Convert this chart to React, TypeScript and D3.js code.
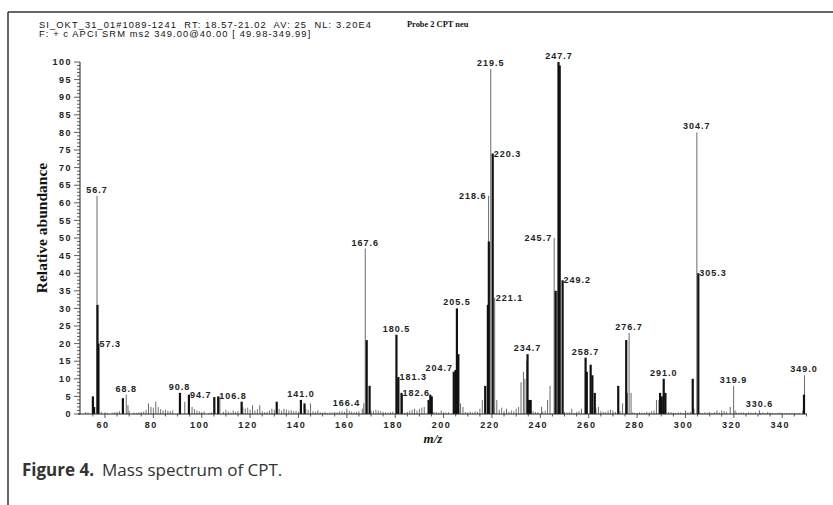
import React from "react";
import * as d3 from "d3";

// ---- data ----
const headerLine1 = "SI_OKT_31_01#1089-1241  RT: 18.57-21.02  AV: 25  NL: 3.20E4";
const headerLine2 = "F: + c APCI SRM ms2 349.00@40.00 [ 49.98-349.99]";
const sampleName = "Probe 2 CPT neu";
const yTicks = [0, 5, 10, 15, 20, 25, 30, 35, 40, 45, 50, 55, 60, 65, 70, 75, 80, 85, 90, 95, 100];
const xTicks = [60, 80, 100, 120, 140, 160, 180, 200, 220, 240, 260, 280, 300, 320, 340];

// thick dark sticks (profile)
const darkMz = [55.0, 55.5, 56.9, 57.3, 67.4, 91.0, 94.7, 105.2, 106.8, 116.5, 131.0, 141.0, 142.5, 168.2, 169.4, 180.5, 181.3, 182.6, 193.8, 194.5, 195.1, 204.2, 204.9, 205.5, 206.1, 217.2, 218.3, 218.7, 220.3, 234.7, 235.3, 236.0, 246.3, 247.5, 248.0, 249.2, 258.7, 259.2, 260.8, 261.5, 262.5, 272.2, 275.5, 289.5, 290.2, 291.0, 291.7, 303.0, 305.3, 349.0];
const darkInt = [5, 2, 31, 20, 4.5, 6, 5.5, 4.8, 5, 3.5, 3.5, 4, 3, 21, 8, 22.5, 10.5, 6, 4, 5.5, 5, 12, 12.5, 30, 17, 8, 31, 49, 74, 17, 4, 4, 35, 100, 99, 38, 16, 12, 14, 11, 6, 8, 21, 6, 5, 10, 6, 10, 40, 5.5];

// thin grey sticks (centroid)
const lightMz = [56.7, 68.8, 69.5, 78, 79, 81, 90.8, 93, 96, 107.5, 117, 121, 124, 129, 134, 145, 148, 160, 166.4, 167.0, 167.6, 181.0, 183.0, 188, 199, 207, 208, 216, 218.6, 219.5, 221.1, 222, 226, 232, 233, 233.6, 234.4, 240.5, 243, 244, 245.7, 246.9, 253, 257, 264, 270, 274, 276, 276.7, 277.5, 288, 289, 300, 303.5, 304.7, 313, 315, 318.5, 319.9, 320.5, 330.6, 348.5, 349.2];
const lightInt = [62, 5.5, 2.5, 3, 2, 3.5, 6, 3.5, 2, 5, 2, 2.5, 2.5, 1.5, 1.5, 3, 1, 1.5, 1.5, 3, 47, 10, 5.5, 1.5, 1, 3, 2, 4, 62, 98, 33, 4, 1.5, 9, 12, 10, 15, 2, 4, 8, 50, 35, 1.5, 1.5, 2, 1, 3, 6, 23, 6, 4, 4, 1, 1.5, 80, 1, 1, 2, 8, 1, 1, 1, 11];

// baseline noise
const noiseMz = [52, 53, 58.5, 60, 61, 63, 64, 65, 66, 70, 72, 73, 74, 75, 76, 77, 80, 82, 83, 84, 85, 86, 87, 88, 97, 98, 99, 100, 101, 103, 104, 109, 110, 111, 112, 113, 114, 115, 118, 119, 120, 122, 123, 125, 126, 127, 128, 130, 132, 133, 135, 136, 137, 138, 139, 140, 143, 144, 146, 147, 149, 150, 151, 152, 153, 154, 155, 156, 157, 158, 159, 161, 162, 163, 164, 165, 170, 171, 172, 173, 174, 175, 176, 177, 178, 179, 184, 185, 186, 187, 189, 190, 191, 192, 196, 197, 198, 200, 201, 202, 209, 210, 211, 212, 213, 214, 215, 223, 224, 225, 227, 228, 229, 230, 231, 237, 238, 239, 241, 242, 250, 251, 252, 254, 255, 256, 263, 265, 266, 267, 268, 269, 271, 273, 278, 279, 280, 281, 282, 283, 284, 285, 286, 287, 293, 294, 295, 296, 297, 298, 299, 301, 302, 306, 307, 308, 309, 310, 311, 312, 314, 316, 317, 321, 322, 323, 324, 325, 326, 327, 328, 329, 331, 332, 333, 334, 335, 336, 337, 338, 339, 340, 341, 342, 343, 344, 345, 346, 347];
const noiseInt = [0.5, 0.4, 0.6, 0.5, 0.3, 0.4, 0.5, 0.6, 0.8, 0.9, 0.4, 0.3, 0.5, 0.6, 0.7, 1.2, 1.8, 2.0, 1.4, 1.0, 1.2, 0.9, 0.8, 1.0, 1.4, 1.0, 0.8, 0.6, 0.7, 0.3, 0.5, 0.6, 1.2, 0.7, 0.4, 1.0, 0.6, 0.8, 1.6, 1.8, 1.2, 1.0, 1.4, 0.8, 0.5, 0.6, 1.0, 1.2, 1.5, 0.9, 1.3, 1.0, 1.1, 0.8, 0.9, 0.7, 1.4, 1.2, 0.8, 0.6, 0.5, 0.4, 0.6, 0.3, 0.5, 0.4, 0.6, 0.5, 0.7, 0.8, 0.6, 0.9, 0.7, 0.5, 0.6, 0.8, 1.0, 0.9, 1.2, 1.0, 0.8, 0.6, 0.5, 0.4, 0.6, 0.7, 0.4, 0.6, 0.9, 1.2, 1.0, 1.5, 1.8, 2.0, 0.6, 0.5, 0.4, 0.5, 0.4, 0.5, 0.6, 0.5, 0.7, 0.4, 0.8, 0.6, 1.5, 1.2, 1.8, 0.9, 0.6, 1.0, 0.8, 1.5, 2.0, 0.8, 0.6, 0.5, 0.7, 1.0, 0.6, 0.4, 0.5, 0.3, 0.6, 0.8, 1.5, 0.8, 0.6, 0.5, 1.0, 1.2, 0.6, 0.8, 0.5, 0.4, 0.3, 0.5, 0.4, 0.3, 0.6, 0.5, 0.8, 1.0, 0.6, 0.5, 0.4, 0.3, 0.5, 0.4, 0.3, 0.5, 0.6, 0.4, 0.3, 0.5, 0.4, 0.6, 0.3, 0.5, 0.4, 0.8, 0.6, 0.4, 0.3, 0.5, 0.4, 0.3, 0.5, 0.4, 0.3, 0.5, 0.3, 0.4, 0.3, 0.6, 0.4, 0.3, 0.2, 0.3, 0.4, 0.3, 0.2, 0.3, 0.3, 0.2, 0.3, 0.2, 0.3];

// labelled peaks
const labelMz = [56.7, 57.3, 68.8, 90.8, 94.7, 106.8, 141.0, 166.4, 167.6, 180.5, 181.3, 182.6, 204.7, 205.5, 218.6, 219.5, 220.3, 221.1, 234.7, 245.7, 247.7, 249.2, 258.7, 276.7, 291.0, 304.7, 305.3, 319.9, 330.6, 349.0];
const labelInt = [62, 20, 5.5, 6, 5.5, 5, 4, 3, 47, 22.5, 10.5, 6, 13, 30, 62, 98, 74, 33, 17, 50, 100, 38, 16, 23, 10, 80, 40, 8, 1, 11];
const labelSide = ["middle", "start", "middle", "middle", "start", "start", "middle", "end", "middle", "middle", "start", "start", "end", "middle", "end", "middle", "start", "start", "middle", "end", "middle", "start", "middle", "middle", "middle", "middle", "start", "middle", "middle", "middle"];

export default function App() {
  const W = 833, H = 505;
  const x = d3.scaleLinear().domain([56.7, 349]).range([97, 804]);
  const y = d3.scaleLinear().domain([0, 100]).range([414, 62]);
  const axisFont = "Arial, 'Liberation Sans', sans-serif";
  const serif = "'Liberation Serif', 'DejaVu Serif', serif";
  const minorX = d3.range(55, 351, 5);
  const minorY = d3.range(0, 101, 1);

  return (
    <svg width={W} height={H} style={{ position: "absolute", left: 0, top: 0, background: "#fff" }}>
      {/* frame */}
      <line x1={8} x2={W} y1={12} y2={12} stroke="#333" strokeWidth={1.5} />
      <line x1={8} x2={8} y1={12} y2={H} stroke="#333" strokeWidth={1.5} />

      {/* header */}
      <text x={39} y={28} fontFamily={axisFont} fontSize={9.3} letterSpacing={1.1} fill="#111" xmlSpace="preserve" style={{ whiteSpace: "pre" }}>{headerLine1}</text>
      <text x={39} y={37} fontFamily={axisFont} fontSize={9.3} letterSpacing={1.1} fill="#111" xmlSpace="preserve" style={{ whiteSpace: "pre" }}>{headerLine2}</text>
      <text x={407} y={27} fontFamily={serif} fontWeight="bold" fontSize={8.4} fill="#111">{sampleName}</text>

      {/* noise */}
      {noiseMz.map((m, i) => (
        <line key={"n" + i} x1={x(m)} x2={x(m)} y1={y(0)} y2={y(noiseInt[i] ?? 0)} stroke="#777" strokeWidth={1} />
      ))}
      {/* light sticks */}
      {lightMz.map((m, i) => (
        <line key={"l" + i} x1={x(m)} x2={x(m)} y1={y(0)} y2={y(lightInt[i] ?? 0)} stroke="#6a6a6a" strokeWidth={1} />
      ))}
      {/* dark sticks */}
      {darkMz.map((m, i) => (
        <line key={"d" + i} x1={x(m)} x2={x(m)} y1={y(0)} y2={y(darkInt[i] ?? 0)} stroke="#111" strokeWidth={2.2} />
      ))}

      {/* peak labels */}
      {labelMz.map((m, i) => {
        const side = labelSide[i];
        const px = x(m);
        const py = y(labelInt[i]);
        const tx = side === "start" ? px + 1 : side === "end" ? px - 2 : px;
        const ty = side === "middle" ? py - 3 : py + 3;
        return (
          <text key={"t" + i} x={tx} y={ty} textAnchor={side} fontFamily={axisFont} fontWeight="bold" fontSize={9} letterSpacing={1} fill="#222">
            {m.toFixed(1)}
          </text>
        );
      })}

      {/* y axis */}
      <line x1={80} x2={80} y1={y(100)} y2={y(0)} stroke="#222" strokeWidth={1} />
      {minorY.map((v) => (
        <line key={"my" + v} x1={v % 5 === 0 ? 74 : 77} x2={80} y1={y(v)} y2={y(v)} stroke="#333" strokeWidth={0.8} />
      ))}
      {yTicks.map((v) => (
        <text key={"yt" + v} x={72} y={y(v) + 3.2} textAnchor="end" fontFamily={axisFont} fontWeight="bold" fontSize={9} letterSpacing={1.5} fill="#222">{v}</text>
      ))}
      <text transform={`translate(47, 228) rotate(-90)`} textAnchor="middle" fontFamily={serif} fontWeight="bold" fontSize={15.5} fill="#111">Relative abundance</text>

      {/* x axis */}
      <line x1={78} x2={807} y1={y(0)} y2={y(0)} stroke="#222" strokeWidth={1} />
      {minorX.map((v) => (
        <line key={"mx" + v} x1={x(v)} x2={x(v)} y1={y(0)} y2={y(0) + (v % 20 === 0 ? 4 : 2.5)} stroke="#333" strokeWidth={0.8} />
      ))}
      {xTicks.map((v) => (
        <text key={"xt" + v} x={x(v) - 2} y={428} textAnchor="middle" fontFamily={axisFont} fontWeight="bold" fontSize={9} letterSpacing={1.5} fill="#222">{v}</text>
      ))}
      <text x={433} y={443} textAnchor="middle" fontFamily={serif} fontStyle="italic" fontWeight="bold" fontSize={13} fill="#111">m/z</text>

      {/* caption */}
      <text x={22} y={476} fontFamily="'Liberation Sans Narrow', 'Open Sans', 'Noto Sans', sans-serif" fontSize={17} fill="#333">
        <tspan fontWeight="bold">Figure 4.</tspan>
        <tspan dx={8}>Mass spectrum of CPT.</tspan>
      </text>
    </svg>
  );
}
